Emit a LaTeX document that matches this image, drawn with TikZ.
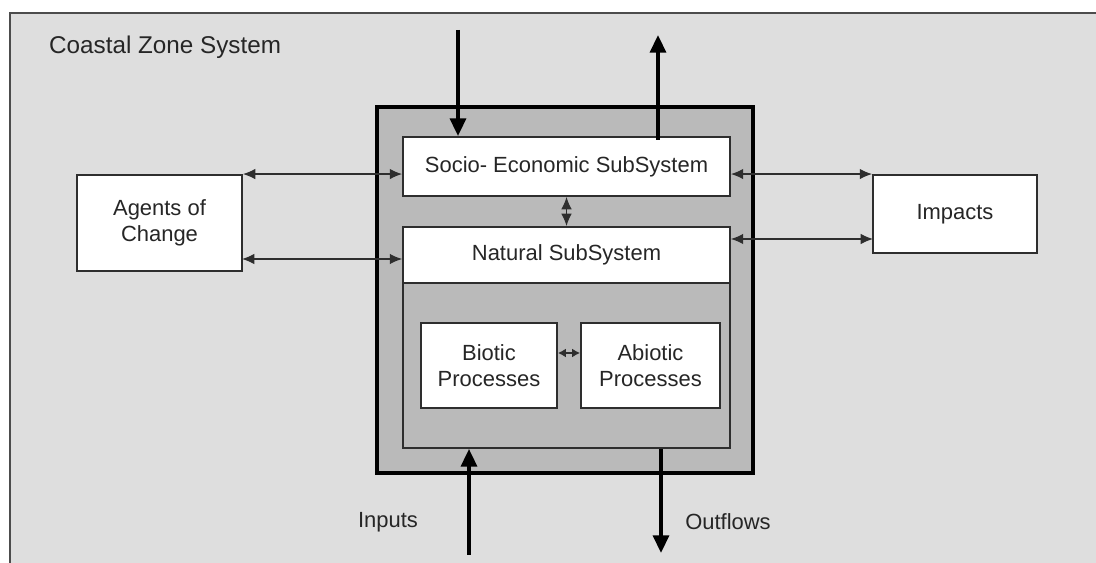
\documentclass[tikz,border=0pt]{standalone}
\usepackage{fontspec}
\setmainfont{Liberation Sans}
\usetikzlibrary{arrows.meta}
\definecolor{zonebg}{HTML}{DEDEDE}
\definecolor{boxgray}{HTML}{BABABA}
\definecolor{edgegray}{HTML}{2E2E2E}

\begin{document}
\begin{tikzpicture}[x=0.02cm, y=-0.02cm,
    txt/.style={font=\fontsize{12.5}{15}\selectfont, text=black!85},
    whitebox/.style={draw=edgegray, line width=1.1pt, fill=white, inner sep=0pt, txt, align=center},
    graybox/.style={draw=black, fill=boxgray, inner sep=0pt},
    link/.style={{Latex[length=7pt,width=6pt]}-{Latex[length=7pt,width=6pt]}, line width=0.7pt, draw=edgegray},
    flow/.style={-{Triangle[length=10pt,width=9pt]}, line width=2pt}]
    \useasboundingbox (0,0) rectangle (1096,563);
    \fill[zonebg] (10,13) rectangle (1096,563);
    \draw[line width=1.3pt, draw=black!70] (10,563) -- (10,13) -- (1096,13);
    \node[txt, font=\fontsize{13.8}{16}\selectfont, anchor=west] (title) at (43,47) {Coastal Zone System};

    % the zone and its two subsystems
    \node[graybox, line width=2.4pt, minimum width=7.52cm, minimum height=7.32cm] (zone) at (565,290) {};
    \node[whitebox, minimum width=6.54cm, minimum height=1.18cm] (socio) at (566.5,166.5) {Socio- Economic SubSystem};
    \node[whitebox, minimum width=6.54cm, minimum height=1.12cm] (natural) at (566.5,255) {Natural SubSystem};
    \node[graybox, draw=edgegray, line width=1.1pt, minimum width=6.54cm, minimum height=3.30cm] (panel) at (566.5,365.5) {};
    \node[whitebox, minimum width=2.72cm, minimum height=1.70cm] (biotic) at (489,365.5) {Biotic\\Processes};
    \node[whitebox, minimum width=2.78cm, minimum height=1.70cm] (abiotic) at (650.5,365.5) {Abiotic\\Processes};

    \node[whitebox, minimum width=3.30cm, minimum height=1.92cm] (agents) at (159.5,223) {Agents of\\Change};
    \node[whitebox, minimum width=3.28cm, minimum height=1.56cm] (impacts) at (955,214) {Impacts};

    \node[txt] (inputs) at (388,522) {Inputs};
    \node[txt] (outflows) at (728,522) {Outflows};

    \coordinate (agLow) at (242,259);
    \coordinate (imLow) at (873,239);
    \coordinate (inTop) at (458,30);
    \coordinate (outTop) at (658,35);
    \coordinate (inBot) at (469,555);
    \coordinate (outBot) at (661,553);

    \draw[link] (agents.north east) -- (agents.north east -| socio.west);
    \draw[link] (agLow) -- (agLow -| natural.west);
    \draw[link] (impacts.north west -| socio.east) -- (impacts.north west);
    \draw[link] (imLow -| natural.east) -- (imLow);
    \draw[link] (socio.south) -- (natural.north);
    \draw[link, {Latex[length=4.5pt,width=5pt]}-{Latex[length=4.5pt,width=5pt]}] (biotic.east |- 0,353) -- (abiotic.west |- 0,353);

    \draw[flow] (inTop) -- (inTop |- socio.north);
    \draw[flow] ([yshift=-2pt]outTop |- socio.north) -- (outTop);
    \draw[flow] (inBot) -- (inBot |- panel.south);
    \draw[flow] (outBot |- panel.south) -- (outBot);
\end{tikzpicture}
\end{document}
